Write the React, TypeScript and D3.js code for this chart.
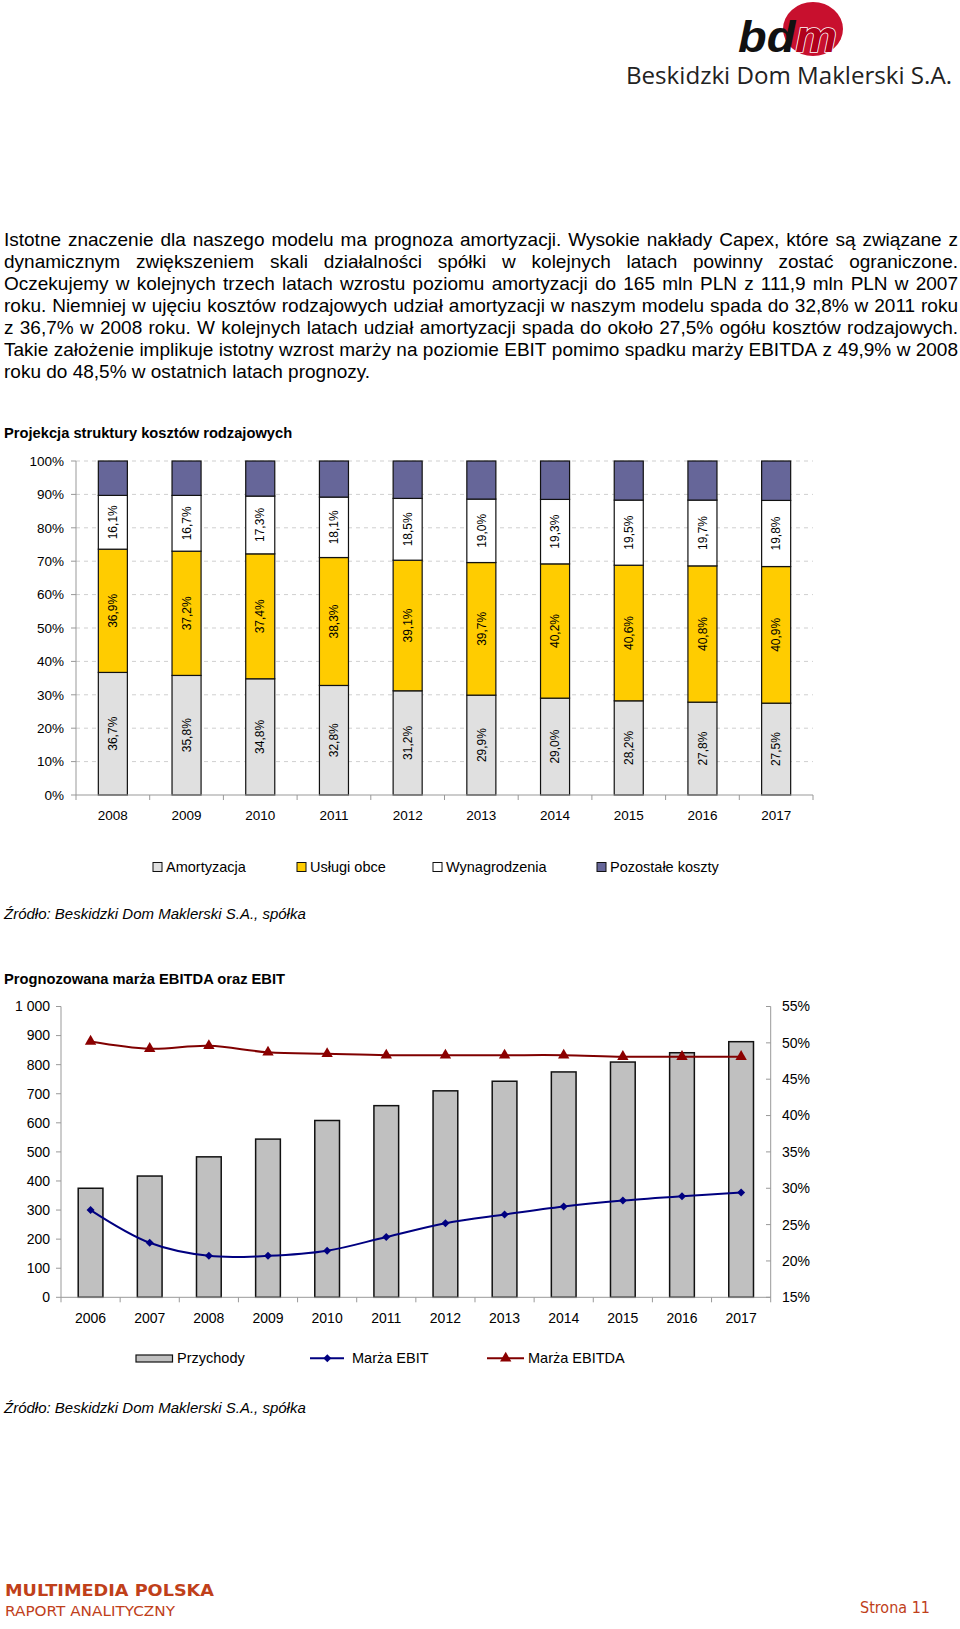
import React from 'react';
import * as d3 from 'd3';

// ---------- DATA ----------
const paragraphLines = [
  'Istotne znaczenie dla naszego modelu ma prognoza amortyzacji. Wysokie nakłady Capex, które są związane z',
  'dynamicznym zwiększeniem skali działalności spółki w kolejnych latach powinny zostać ograniczone.',
  'Oczekujemy w kolejnych trzech latach wzrostu poziomu amortyzacji do 165 mln PLN z 111,9 mln PLN w 2007',
  'roku. Niemniej w ujęciu kosztów rodzajowych udział amortyzacji w naszym modelu spada do 32,8% w 2011 roku',
  'z 36,7% w 2008 roku. W kolejnych latach udział amortyzacji spada do około 27,5% ogółu kosztów rodzajowych.',
  'Takie założenie implikuje istotny wzrost marży na poziomie EBIT pomimo spadku marży EBITDA z 49,9% w 2008',
  'roku do 48,5% w ostatnich latach prognozy.',
];

const years1 = ['2008', '2009', '2010', '2011', '2012', '2013', '2014', '2015', '2016', '2017'];
const amortyzacja = [36.7, 35.8, 34.8, 32.8, 31.2, 29.9, 29.0, 28.2, 27.8, 27.5];
const uslugiObce = [36.9, 37.2, 37.4, 38.3, 39.1, 39.7, 40.2, 40.6, 40.8, 40.9];
const wynagrodzenia = [16.1, 16.7, 17.3, 18.1, 18.5, 19.0, 19.3, 19.5, 19.7, 19.8];
const pozostaleKoszty = [10.3, 10.3, 10.5, 10.8, 11.2, 11.4, 11.5, 11.7, 11.7, 11.8];
const series1Names = ['Amortyzacja', 'Usługi obce', 'Wynagrodzenia', 'Pozostałe koszty'];
const series1Colors = ['#e0e0e0', '#ffcc00', '#ffffff', '#666699'];
const yTicks1 = [0, 10, 20, 30, 40, 50, 60, 70, 80, 90, 100];

const years2 = ['2006', '2007', '2008', '2009', '2010', '2011', '2012', '2013', '2014', '2015', '2016', '2017'];
const przychody = [375, 417, 483, 544, 608, 659, 710, 743, 775, 809, 841, 879];
const marzaEbit = [27.0, 22.5, 20.7, 20.7, 21.4, 23.3, 25.2, 26.4, 27.5, 28.3, 28.9, 29.4];
const marzaEbitda = [50.2, 49.2, 49.6, 48.7, 48.5, 48.3, 48.3, 48.3, 48.3, 48.1, 48.1, 48.1];
const leftTicks2 = [0, 100, 200, 300, 400, 500, 600, 700, 800, 900, 1000];
const rightTicks2 = [15, 20, 25, 30, 35, 40, 45, 50, 55];

const FONT = "'Liberation Sans', Arial, Helvetica, sans-serif";

let measureCtx: CanvasRenderingContext2D | null = null;
function measure(text: string, font: string): number {
  if (!measureCtx) {
    const c = document.createElement('canvas');
    measureCtx = c.getContext('2d');
  }
  if (!measureCtx) return text.length * 9;
  measureCtx.font = font;
  return measureCtx.measureText(text).width;
}

function Paragraph() {
  const size = 19;
  const font = `${size}px 'Liberation Sans', Arial, sans-serif`;
  const x0 = 4;
  const x1 = 958;
  const base0 = 246;
  const lh = 22.06;
  return (
    <g fontFamily={FONT} fontSize={size} fill="#000">
      {paragraphLines.map((line, li) => {
        const y = base0 + li * lh;
        const last = li === paragraphLines.length - 1;
        if (last) {
          return (
            <text key={li} x={x0} y={y}>
              {line}
            </text>
          );
        }
        const words = line.split(' ');
        const widths = words.map((w) => measure(w, font));
        const total = widths.reduce((a, b) => a + b, 0);
        const gap = (x1 - x0 - total) / (words.length - 1);
        let cx = x0;
        return (
          <g key={li}>
            {words.map((w, wi) => {
              const el = (
                <text key={wi} x={cx} y={y}>
                  {w}
                </text>
              );
              cx += widths[wi] + gap;
              return el;
            })}
          </g>
        );
      })}
    </g>
  );
}

function Logo() {
  return (
    <g>
      <ellipse cx={813} cy={29} rx={30} ry={27} fill="#c8102e" />
      <text
        x={738}
        y={52}
        fontFamily={FONT}
        fontWeight="bold"
        fontStyle="italic"
        fontSize={44}
        fill="#111"
        textLength={99}
        lengthAdjust="spacingAndGlyphs"
      >
        bd
        <tspan fill="#b0001c" stroke="#ffffff" strokeWidth={1.5} paintOrder="stroke">
          m
        </tspan>
      </text>
      <text
        x={626}
        y={84}
        fontFamily="'Open Sans', 'Noto Sans', sans-serif"
        fontSize={23.5}
        fill="#222"
        textLength={326}
        lengthAdjust="spacingAndGlyphs"
      >
        Beskidzki Dom Maklerski S.A.
      </text>
    </g>
  );
}

function fmtPct(v: number) {
  return v.toFixed(1).replace('.', ',') + '%';
}

function Chart1() {
  const x = d3.scaleBand<string>().domain(years1).range([76, 813]).paddingInner(0.606).paddingOuter(0.303);
  const y = d3.scaleLinear().domain([0, 100]).range([795, 461]);
  const rows = years1.map((yr, i) => ({
    year: yr,
    a: amortyzacja[i],
    u: uslugiObce[i],
    w: wynagrodzenia[i],
    p: pozostaleKoszty[i],
  }));
  const keys = ['a', 'u', 'w', 'p'];
  const stack = d3.stack<any>().keys(keys)(rows);
  const step = x.step();
  const boundaries = d3.range(years1.length + 1).map((i) => 76 + i * step);

  const legendSquares = [153, 297, 433, 597];

  return (
    <g fontFamily={FONT}>
      <text x={4} y={438.3} fontSize={14.7} fontWeight="bold">
        Projekcja struktury kosztów rodzajowych
      </text>
      {yTicks1.map((t) =>
        t === 0 ? null : (
          <line key={t} x1={76} x2={813} y1={y(t)} y2={y(t)} stroke="#cfcfcf" strokeWidth={1} strokeDasharray="4,4" />
        )
      )}
      <line x1={76} x2={76} y1={y(100)} y2={y(0)} stroke="#999" strokeWidth={1} />
      {yTicks1.map((t) => (
        <line key={'tk' + t} x1={71} x2={76} y1={y(t)} y2={y(t)} stroke="#999" />
      ))}
      {yTicks1.map((t) => (
        <text key={'yl' + t} x={64} y={y(t)} dy="0.35em" fontSize={13.5} textAnchor="end">
          {t + '%'}
        </text>
      ))}
      {stack.map((s, si) => (
        <g key={si}>
          {s.map((d: any, i: number) => (
            <rect
              key={i}
              x={x(years1[i])}
              y={y(d[1])}
              width={x.bandwidth()}
              height={y(d[0]) - y(d[1])}
              fill={series1Colors[si]}
              stroke="#111"
              strokeWidth={1.2}
            />
          ))}
        </g>
      ))}
      {stack.slice(0, 3).map((s, si) => (
        <g key={'lbl' + si}>
          {s.map((d: any, i: number) => {
            const cx = (x(years1[i]) as number) + x.bandwidth() / 2;
            const cy = (y(d[0]) + y(d[1])) / 2;
            return (
              <text
                key={i}
                transform={`translate(${cx},${cy}) rotate(-90)`}
                textAnchor="middle"
                dy="0.35em"
                fontSize={12}
                fill="#000"
              >
                {fmtPct(d[1] - d[0])}
              </text>
            );
          })}
        </g>
      ))}
      <line x1={76} x2={813} y1={y(0)} y2={y(0)} stroke="#999" />
      {boundaries.map((bx, i) => (
        <line key={'bt' + i} x1={bx} x2={bx} y1={y(0)} y2={y(0) + 5} stroke="#999" />
      ))}
      {years1.map((yr) => (
        <text key={yr} x={(x(yr) as number) + x.bandwidth() / 2} y={815} dy="0.35em" textAnchor="middle" fontSize={13.5}>
          {yr}
        </text>
      ))}
      {series1Names.map((n, i) => (
        <g key={n}>
          <rect x={legendSquares[i]} y={867 - 4.5} width={9} height={9} fill={series1Colors[i]} stroke="#111" strokeWidth={1} />
          <text x={legendSquares[i] + 13} y={867} dy="0.35em" fontSize={14.5}>
            {n}
          </text>
        </g>
      ))}
      <text x={4} y={918.7} fontSize={15} fontStyle="italic">
        Źródło: Beskidzki Dom Maklerski S.A., spółka
      </text>
    </g>
  );
}

function Chart2() {
  const x = d3.scaleBand<string>().domain(years2).range([61, 770.7]).paddingInner(0.582).paddingOuter(0.291);
  const yL = d3.scaleLinear().domain([0, 1000]).range([1297.3, 1006.5]);
  const yR = d3.scaleLinear().domain([15, 55]).range([1297.3, 1006.5]);
  const cxOf = (yr: string) => (x(yr) as number) + x.bandwidth() / 2;
  const step = x.step();
  const boundaries = d3.range(years2.length + 1).map((i) => 61 + i * step);
  const lineGen = d3
    .line<number>()
    .x((_, i) => cxOf(years2[i]))
    .y((v) => yR(v))
    .curve(d3.curveCatmullRom.alpha(0.5));
  const diamond = d3.symbol(d3.symbolSquare, 32)() as string;
  const triangle = d3.symbol(d3.symbolTriangle, 56)() as string;
  const fmtL = (v: number) => d3.format(',')(v).replace(/,/g, ' ');

  return (
    <g fontFamily={FONT}>
      <text x={4} y={983.6} fontSize={14.7} fontWeight="bold">
        Prognozowana marża EBITDA oraz EBIT
      </text>
      <line x1={61} x2={61} y1={yL(1000)} y2={yL(0)} stroke="#999" />
      {leftTicks2.map((t) => (
        <g key={'l' + t}>
          <line x1={56} x2={61} y1={yL(t)} y2={yL(t)} stroke="#999" />
          <text x={50} y={yL(t)} dy="0.35em" textAnchor="end" fontSize={14}>
            {fmtL(t)}
          </text>
        </g>
      ))}
      <line x1={770.7} x2={770.7} y1={yR(55)} y2={yR(15)} stroke="#999" />
      {rightTicks2.map((t) => (
        <g key={'r' + t}>
          <line x1={766} x2={770.7} y1={yR(t)} y2={yR(t)} stroke="#999" />
          <text x={782} y={yR(t)} dy="0.35em" textAnchor="start" fontSize={14}>
            {t + '%'}
          </text>
        </g>
      ))}
      {przychody.map((v, i) => (
        <rect
          key={i}
          x={x(years2[i])}
          y={yL(v)}
          width={x.bandwidth()}
          height={yL(0) - yL(v)}
          fill="#c0c0c0"
          stroke="#111"
          strokeWidth={1.5}
        />
      ))}
      <line x1={61} x2={770.7} y1={yL(0)} y2={yL(0)} stroke="#999" />
      {boundaries.map((bx, i) => (
        <line key={'b' + i} x1={bx} x2={bx} y1={yL(0)} y2={yL(0) + 5} stroke="#999" />
      ))}
      {years2.map((yr) => (
        <text key={yr} x={cxOf(yr)} y={1318.3} dy="0.35em" textAnchor="middle" fontSize={14}>
          {yr}
        </text>
      ))}
      <path d={lineGen(marzaEbitda) as string} fill="none" stroke="#800000" strokeWidth={2} />
      <path d={lineGen(marzaEbit) as string} fill="none" stroke="#000080" strokeWidth={2} />
      {marzaEbitda.map((v, i) => (
        <path key={'t' + i} d={triangle} transform={`translate(${cxOf(years2[i])},${yR(v)})`} fill="#8b0000" />
      ))}
      {marzaEbit.map((v, i) => (
        <path key={'d' + i} d={diamond} transform={`translate(${cxOf(years2[i])},${yR(v)}) rotate(45)`} fill="#000080" />
      ))}
      <rect x={136} y={1355} width={36.5} height={7} fill="#c0c0c0" stroke="#111" strokeWidth={1.2} />
      <text x={177} y={1358.3} dy="0.35em" fontSize={14.5}>
        Przychody
      </text>
      <line x1={310} x2={344} y1={1358.3} y2={1358.3} stroke="#000080" strokeWidth={2} />
      <path d={diamond} transform={`translate(327.3,1358.3) rotate(45)`} fill="#000080" />
      <text x={352} y={1358.3} dy="0.35em" fontSize={14.5}>
        Marża EBIT
      </text>
      <line x1={487} x2={524} y1={1358.3} y2={1358.3} stroke="#800000" strokeWidth={2} />
      <path d={triangle} transform={`translate(505.7,1358.3)`} fill="#8b0000" />
      <text x={528} y={1358.3} dy="0.35em" fontSize={14.5}>
        Marża EBITDA
      </text>
      <text x={4} y={1413} fontSize={15} fontStyle="italic">
        Źródło: Beskidzki Dom Maklerski S.A., spółka
      </text>
    </g>
  );
}

function Footer() {
  const ff = "'DejaVu Sans', Verdana, Tahoma, sans-serif";
  return (
    <g fontFamily={ff} fill="#c0401a">
      <text x={5} y={1596} fontSize={15} fontWeight="bold" textLength={209} lengthAdjust="spacingAndGlyphs">
        MULTIMEDIA POLSKA
      </text>
      <text x={5} y={1616} fontSize={14} textLength={170} lengthAdjust="spacingAndGlyphs">
        RAPORT ANALITYCZNY
      </text>
      <text x={860} y={1612.5} fontSize={15} textLength={70} lengthAdjust="spacingAndGlyphs">
        Strona 11
      </text>
    </g>
  );
}

export default function App() {
  return (
    <svg
      width={960}
      height={1629}
      viewBox="0 0 960 1629"
      style={{ position: 'absolute', left: 0, top: 0, display: 'block', background: '#fff' }}
    >
      <rect x={0} y={0} width={960} height={1629} fill="#fff" />
      <Logo />
      <Paragraph />
      <Chart1 />
      <Chart2 />
      <Footer />
    </svg>
  );
}
